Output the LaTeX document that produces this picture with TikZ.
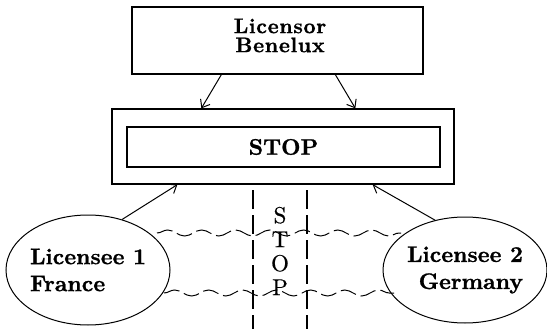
\documentclass[tikz,border=0pt]{standalone}
\usepackage{fontspec}
\setmainfont{lmroman10-regular.otf}[BoldFont=lmroman10-bold.otf]
\usetikzlibrary{arrows.meta,shapes.geometric,decorations.pathmorphing,calc}
\begin{document}
\begin{tikzpicture}[x=1pt,y=-1pt,
  box/.style={draw,line width=1.3pt,rectangle,inner sep=0pt},
  lab/.style={font=\fontsize{22.5}{27}\selectfont\bfseries\addfontfeature{FakeBold=1}},
  oval/.style={draw,line width=1pt,ellipse,inner sep=0pt,lab},
  arr/.style={line width=1pt,-{Straight Barb[length=7pt,width=11pt]}},
  divider/.style={line width=2pt,dash pattern=on 19pt off 6pt},
  wave/.style={line width=1pt,decorate,decoration={snake,amplitude=3pt,segment length=34pt},dash pattern=on 16pt off 5pt}]
\useasboundingbox (0,0) rectangle (547,329);
% top licensor
\node[box,minimum width=291pt,minimum height=67pt] (lic) at (277.5,40.5) {};
\node[inner sep=0pt,align=center,font=\fontsize{21}{19}\selectfont\bfseries\addfontfeature{LetterSpace=3,FakeBold=1}] (lictext) at (280,35.5) {Licensor\\Benelux};
% stop boxes
\node[box,minimum width=342pt,minimum height=75pt] (outer) at (283,146.5) {};
\node[box,minimum width=313pt,minimum height=40pt,lab] (inner) at (283.5,147) {STOP};
% licensees
\node[oval,minimum width=160pt,minimum height=110pt,align=left] (lee1) at (88,270) {Licensee 1\\France};
\node[oval,minimum width=158pt,minimum height=106pt,align=right] (lee2) at (465,270) {Licensee 2\\Germany};
% arrows
\draw[arr] ([xshift=90pt]lic.south west) -- ([xshift=90pt]outer.north west);
\draw[arr] ([xshift=204pt]lic.south west) -- ([xshift=244pt]outer.north west);
\draw[arr] (lee1.56) -- ([xshift=66pt]outer.south west);
\draw[arr] (lee2.121) -- ([xshift=-82pt]outer.south east);
% dividers
\coordinate (d1t) at (253,190);
\coordinate (d1b) at (253,329);
\coordinate (d2t) at (307,190);
\coordinate (d2b) at (307,329);
\draw[divider] (d1t) -- (d1b);
\draw[divider] (d2t) -- (d2b);
\node[font=\fontsize{23}{24}\selectfont\addfontfeature{FakeBold=0.5},align=center,inner sep=0pt] (vstop) at (280,251) {S\\T\\O\\P};
% wavy lines
\coordinate (w1a) at (157,233);
\coordinate (w1b) at (401,233);
\coordinate (w2a) at (164,293);
\coordinate (w2b) at (394,293);
\draw[wave] (w1a) -- (w1b);
\draw[wave] (w2a) -- (w2b);
\end{tikzpicture}
\end{document}
